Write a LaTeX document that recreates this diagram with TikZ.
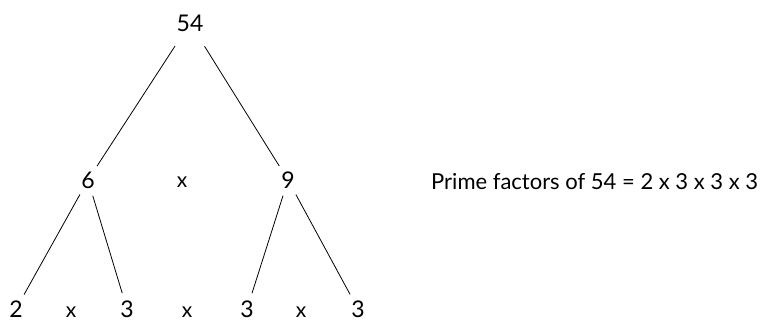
\documentclass[tikz,border=0pt]{standalone}
\usepackage{fontspec}
\setmainfont{Lato}
\usetikzlibrary{positioning}
\tikzset{
    every node/.append style={align=center},
    num/.style={circle,inner sep=4pt,font=\fontsize{23}{26}\selectfont},
    times/.style={inner sep=0pt,anchor=base,font=\fontsize{21}{24}\selectfont},
    edge/.style={line width=0.8pt},
    note/.style={anchor=base west,inner sep=0pt,font=\fontsize{22}{26}\selectfont}
}
\begin{document}
\begin{tikzpicture}[x=1pt,y=-1pt]
    \useasboundingbox (0,0) rectangle (766,321);
    % root
    \node[num] (n54)  at (190, 23) {54};
    % middle row
    \node[num] (n6)   at ( 88,180) {6};
    \node[num] (n9)   at (288,180) {9};
    \node[times] (m1) at (182,187) {x};
    % leaves
    \node[num] (l2)   at ( 16,309) {2};
    \node[num] (l3a)  at (127,309) {3};
    \node[num] (l3b)  at (247,309) {3};
    \node[num] (l3c)  at (358,309) {3};
    \node[times] (b1) at ( 71,317) {x};
    \node[times] (b2) at (187,317) {x};
    \node[times] (b3) at (301,317) {x};
    % result
    \node[note] (res) at (431,189) {Prime factors of 54 = 2 x 3 x 3 x 3};

    \draw[edge,shorten <=6pt] (n54) -- (n6);
    \draw[edge,shorten <=6pt] (n54) -- (n9);
    \draw[edge] (n6) -- (l2);
    \draw[edge] (n6) -- (l3a);
    \draw[edge] (n9) -- (l3b);
    \draw[edge] (n9) -- (l3c);
\end{tikzpicture}
\end{document}
